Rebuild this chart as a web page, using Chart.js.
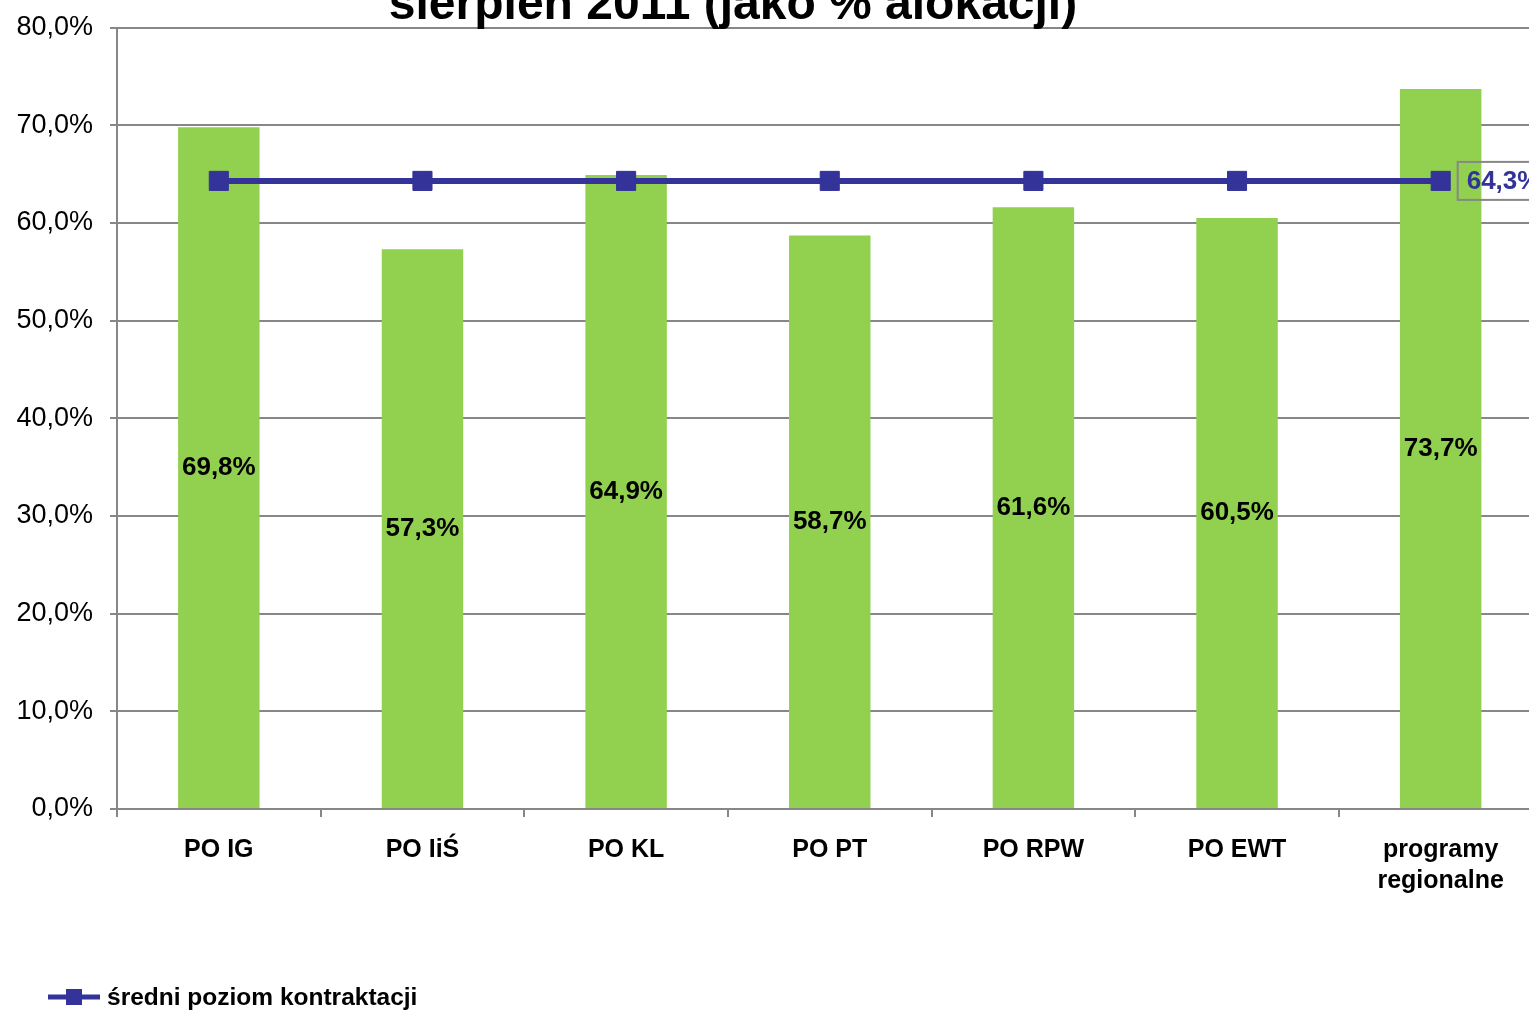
<!DOCTYPE html>
<html><head><meta charset="utf-8">
<script src="https://cdn.jsdelivr.net/npm/chart.js@4"></script>
<style>
html,body{margin:0;padding:0;overflow:hidden;background:#fff;width:1529px;height:1012px}
#wrap{position:absolute;left:0;top:0;width:1557px;height:1012px}
canvas{display:block}
</style></head><body><div id="wrap"><canvas id="c" width="1557" height="1012" style="width:1557px;height:1012px"></canvas></div>
<script>
const categories = ['PO IG', 'PO IiŚ', 'PO KL', 'PO PT', 'PO RPW', 'PO EWT', ['programy', 'regionalne']];
const barValues = [69.8, 57.3, 64.9, 58.7, 61.6, 60.5, 73.7];
const barLabels = ['69,8%', '57,3%', '64,9%', '58,7%', '61,6%', '60,5%', '73,7%'];
const averageValues = [64.3, 64.3, 64.3, 64.3, 64.3, 64.3, 64.3];
const averageLabel = '64,3%';
const yTickLabels = ['0,0%', '10,0%', '20,0%', '30,0%', '40,0%', '50,0%', '60,0%', '70,0%', '80,0%'];
const titleText = 'sierpień 2011 (jako % alokacji)';
const seriesName = 'średni poziom kontraktacji';

const FONT = '"Liberation Sans", Arial, sans-serif';
const GRID = '#878787';
const BLUE = '#333399';
const GREEN = '#92D050';
Chart.defaults.font.family = FONT;

const extras = {
  id: 'extras',
  afterDatasetsDraw(chart) {
    const ctx = chart.ctx;
    ctx.save();
    const barMeta = chart.getDatasetMeta(1);
    ctx.font = 'bold 26px ' + FONT;
    ctx.fillStyle = '#000';
    ctx.textAlign = 'center';
    ctx.textBaseline = 'middle';
    barMeta.data.forEach((el, i) => {
      ctx.fillText(barLabels[i], el.x, (el.y + el.base) / 2);
    });
    const lineMeta = chart.getDatasetMeta(0);
    const last = lineMeta.data[lineMeta.data.length - 1];
    ctx.font = 'bold 26px ' + FONT;
    const tw = ctx.measureText(averageLabel).width;
    const bx = last.x + 17, bh = 38, by = last.y - bh / 2;
    ctx.strokeStyle = GRID;
    ctx.lineWidth = 2;
    ctx.strokeRect(bx, by, tw + 18, bh);
    ctx.fillStyle = BLUE;
    ctx.textAlign = 'left';
    ctx.fillText(averageLabel, bx + 9, last.y + 1);
    ctx.restore();
  },
  afterDraw(chart) {
    const ctx = chart.ctx;
    ctx.save();
    ctx.font = 'bold 48px ' + FONT;
    ctx.fillStyle = '#000';
    ctx.textAlign = 'center';
    ctx.textBaseline = 'alphabetic';
    ctx.fillText(titleText, 733, 19);
    const ly = 997;
    ctx.strokeStyle = BLUE;
    ctx.lineWidth = 5;
    ctx.beginPath();
    ctx.moveTo(48, ly);
    ctx.lineTo(100, ly);
    ctx.stroke();
    ctx.fillStyle = BLUE;
    ctx.fillRect(66, ly - 8, 16, 16);
    ctx.fillStyle = '#000';
    ctx.font = 'bold 24.5px ' + FONT;
    ctx.textAlign = 'left';
    ctx.textBaseline = 'middle';
    ctx.fillText(seriesName, 107, ly + 1);
    ctx.restore();
  }
};

new Chart(document.getElementById('c'), {
  data: {
    labels: categories,
    datasets: [
      {
        type: 'line',
        label: seriesName,
        data: averageValues,
        borderColor: BLUE,
        backgroundColor: BLUE,
        borderWidth: 6,
        pointStyle: 'rect',
        pointRadius: 13.5,
        pointBackgroundColor: BLUE,
        pointBorderColor: BLUE,
        pointBorderWidth: 1,
        tension: 0,
        order: 0
      },
      {
        type: 'bar',
        label: 'poziom kontraktacji',
        data: barValues,
        backgroundColor: GREEN,
        borderWidth: 0,
        categoryPercentage: 1,
        barPercentage: 0.4,
        order: 1
      }
    ]
  },
  options: {
    responsive: false,
    animation: false,
    devicePixelRatio: 1,
    layout: { padding: { top: 22, right: 2, bottom: 0, left: 0 } },
    plugins: { legend: { display: false }, tooltip: { enabled: false }, title: { display: false } },
    scales: {
      x: {
        offset: true,
        grid: { display: true, offset: true, drawOnChartArea: false, drawTicks: true, tickLength: 8, color: GRID, lineWidth: 2 },
        border: { color: GRID, width: 2 },
        ticks: { color: '#000', font: { size: 25, weight: 'bold', lineHeight: 1.24 }, padding: 17.5, maxRotation: 0, autoSkip: false },
        afterFit(s) { s.height = 203; }
      },
      y: {
        min: 0, max: 80,
        ticks: { stepSize: 10, color: '#000', font: { size: 27, lineHeight: 0.78 }, padding: 17,
          callback: (v, i) => yTickLabels[i] },
        grid: { color: GRID, lineWidth: 2, tickLength: 7 },
        border: { color: GRID, width: 2 },
        afterFit(s) { s.width = 117; }
      }
    }
  },
  plugins: [extras]
});
</script></body></html>
